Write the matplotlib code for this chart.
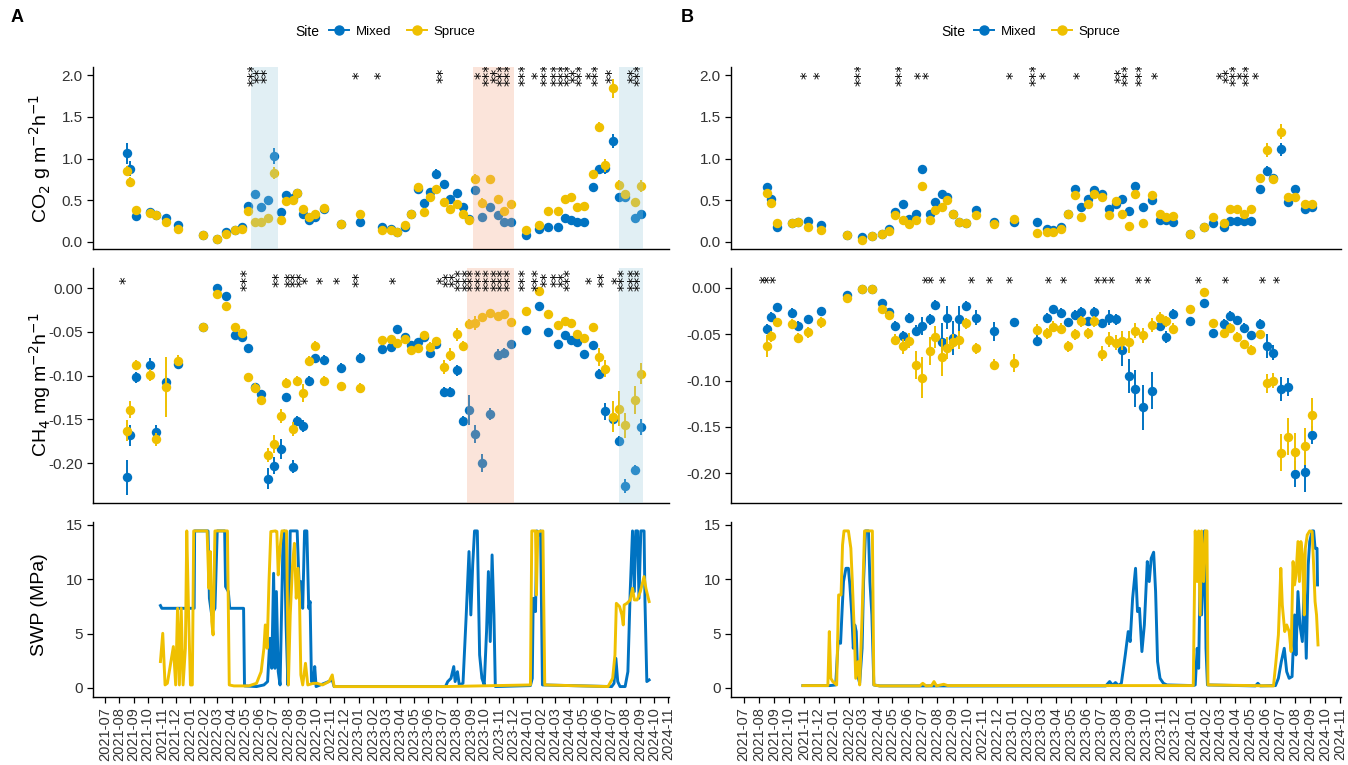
import numpy as np
import pandas as pd
import matplotlib
matplotlib.use("Agg")
import matplotlib.pyplot as plt
import matplotlib.dates as mdates
from matplotlib.lines import Line2D

plt.rcParams['font.family'] = ['Liberation Sans', 'DejaVu Sans']

# sampling campaigns (shared by both sites A and B)
dates = pd.to_datetime([
    "2021-08-18", "2021-08-25", "2021-09-07", "2021-10-07", "2021-10-20", "2021-11-10", "2021-12-07",
    "2022-01-29", "2022-02-28", "2022-03-21", "2022-04-09", "2022-04-23", "2022-05-07", "2022-05-22",
    "2022-06-03", "2022-06-19", "2022-07-01", "2022-07-16", "2022-07-27", "2022-08-11", "2022-08-21",
    "2022-09-02", "2022-09-15", "2022-09-28", "2022-10-19", "2022-11-24", "2023-01-04", "2023-02-20",
    "2023-03-13", "2023-03-25", "2023-04-11", "2023-04-25", "2023-05-10", "2023-05-22", "2023-06-04",
    "2023-06-17", "2023-07-04", "2023-07-17", "2023-08-01", "2023-08-14", "2023-08-28", "2023-09-09",
    "2023-09-25", "2023-10-13", "2023-10-29", "2023-11-11", "2023-11-26", "2023-12-30", "2024-01-27",
    "2024-02-16", "2024-03-08", "2024-03-22", "2024-04-04", "2024-04-18", "2024-05-02", "2024-05-22",
    "2024-06-05", "2024-06-17", "2024-07-04", "2024-07-17", "2024-07-31", "2024-08-21", "2024-09-04"])

# ---- panel A ----
co2_mixed_A = [1.06, 0.88, 0.31, 0.36, 0.32, 0.29, 0.20, 0.08, 0.03, 0.12, 0.14, 0.18, 0.43, 0.57, 0.42, 0.50,
               1.03, 0.36, 0.56, 0.53, 0.59, 0.34, 0.26, 0.30, 0.39, 0.22, 0.24, 0.18, 0.16, 0.12, 0.18, 0.34,
               0.63, 0.47, 0.60, 0.81, 0.69, 0.51, 0.59, 0.42, 0.28, 0.62, 0.30, 0.42, 0.32, 0.24, 0.24, 0.08,
               0.15, 0.18, 0.18, 0.29, 0.26, 0.24, 0.24, 0.66, 0.87, 0.89, 1.21, 0.54, 0.54, 0.29, 0.34]
co2_spruce_A = [0.85, 0.72, 0.38, 0.35, 0.32, 0.24, 0.16, 0.08, 0.03, 0.09, 0.14, 0.15, 0.37, 0.24, 0.24, 0.29,
                0.83, 0.26, 0.49, 0.50, 0.59, 0.40, 0.30, 0.34, 0.41, 0.22, 0.34, 0.14, 0.14, 0.12, 0.20, 0.34,
                0.66, 0.36, 0.54, 0.64, 0.48, 0.40, 0.46, 0.34, 0.26, 0.75, 0.47, 0.75, 0.51, 0.37, 0.45, 0.14,
                0.20, 0.37, 0.37, 0.51, 0.54, 0.42, 0.43, 0.82, 1.38, 0.92, 1.84, 0.68, 0.57, 0.48, 0.67]
co2_mixed_A_se = [0.12, 0.09, 0.02, 0.02, 0.02, 0.02, 0.02, 0.02, 0.02, 0.02, 0.02, 0.02, 0.03, 0.04, 0.03, 0.03,
                  0.10, 0.03, 0.03, 0.03, 0.03, 0.03, 0.03, 0.03, 0.03, 0.02, 0.02, 0.02, 0.02, 0.02, 0.02, 0.02,
                  0.03, 0.03, 0.04, 0.06, 0.04, 0.03, 0.03, 0.03, 0.02, 0.04, 0.03, 0.03, 0.03, 0.02, 0.02, 0.02,
                  0.02, 0.02, 0.02, 0.02, 0.02, 0.02, 0.02, 0.05, 0.05, 0.08, 0.08, 0.03, 0.03, 0.03, 0.03]
co2_spruce_A_se = [0.06, 0.06, 0.02, 0.02, 0.02, 0.02, 0.02, 0.02, 0.02, 0.02, 0.02, 0.02, 0.03, 0.02, 0.02, 0.02,
                   0.07, 0.02, 0.03, 0.03, 0.03, 0.03, 0.03, 0.03, 0.04, 0.02, 0.02, 0.02, 0.02, 0.02, 0.02, 0.02,
                   0.03, 0.03, 0.03, 0.03, 0.03, 0.03, 0.03, 0.03, 0.02, 0.06, 0.06, 0.03, 0.03, 0.03, 0.03, 0.02,
                   0.02, 0.02, 0.02, 0.02, 0.02, 0.02, 0.02, 0.03, 0.06, 0.08, 0.11, 0.06, 0.03, 0.03, 0.07]
ch4_mixed_A = [-0.216, -0.168, -0.102, -0.088, -0.165, -0.107, -0.087, -0.044, 0.000, -0.009, -0.054, -0.056,
               -0.069, -0.113, -0.121, -0.218, -0.203, -0.184, -0.125, -0.204, -0.152, -0.158, -0.106, -0.080,
               -0.082, -0.091, -0.080, -0.070, -0.067, -0.047, -0.056, -0.065, -0.062, -0.056, -0.074, -0.064,
               -0.119, -0.119, -0.094, -0.152, -0.139, -0.167, -0.200, -0.144, -0.076, -0.074, -0.064, -0.048,
               -0.021, -0.050, -0.064, -0.054, -0.059, -0.062, -0.075, -0.065, -0.098, -0.141, -0.150, -0.175,
               -0.226, -0.208, -0.159]
ch4_spruce_A = [-0.163, -0.139, -0.088, -0.099, -0.173, -0.113, -0.083, -0.044, -0.007, -0.021, -0.044, -0.051,
                -0.102, -0.114, -0.128, -0.191, -0.178, -0.146, -0.108, -0.161, -0.106, -0.120, -0.083, -0.066,
                -0.106, -0.112, -0.114, -0.059, -0.058, -0.063, -0.058, -0.071, -0.068, -0.054, -0.067, -0.061,
                -0.090, -0.076, -0.053, -0.066, -0.041, -0.040, -0.033, -0.028, -0.032, -0.030, -0.039, -0.026,
                -0.003, -0.030, -0.042, -0.038, -0.040, -0.052, -0.057, -0.044, -0.079, -0.092, -0.147, -0.138,
                -0.157, -0.128, -0.098]
ch4_mixed_A_se = [0.020, 0.012, 0.006, 0.008, 0.008, 0.006, 0.005, 0.004, 0.004, 0.004, 0.004, 0.004,
                  0.004, 0.005, 0.005, 0.012, 0.010, 0.011, 0.005, 0.007, 0.006, 0.007, 0.005, 0.005,
                  0.005, 0.005, 0.006, 0.004, 0.004, 0.004, 0.004, 0.004, 0.004, 0.004, 0.005, 0.004,
                  0.006, 0.006, 0.006, 0.006, 0.017, 0.010, 0.010, 0.007, 0.006, 0.005, 0.004, 0.004,
                  0.004, 0.004, 0.004, 0.004, 0.004, 0.004, 0.004, 0.004, 0.005, 0.010, 0.008, 0.006,
                  0.008, 0.006, 0.009]
ch4_spruce_A_se = [0.012, 0.010, 0.006, 0.007, 0.007, 0.034, 0.006, 0.004, 0.004, 0.004, 0.004, 0.004,
                   0.004, 0.005, 0.005, 0.008, 0.010, 0.008, 0.005, 0.008, 0.006, 0.010, 0.005, 0.005,
                   0.005, 0.005, 0.006, 0.004, 0.004, 0.004, 0.004, 0.004, 0.004, 0.004, 0.005, 0.004,
                   0.008, 0.007, 0.007, 0.005, 0.006, 0.008, 0.005, 0.004, 0.004, 0.004, 0.004, 0.004,
                   0.004, 0.004, 0.004, 0.004, 0.004, 0.004, 0.004, 0.004, 0.010, 0.010, 0.018, 0.020,
                   0.014, 0.016, 0.012]

# ---- panel B ----
co2_mixed_B = [0.66, 0.51, 0.18, 0.23, 0.24, 0.25, 0.20, 0.08, 0.06, 0.07, 0.10, 0.16, 0.36, 0.46, 0.27, 0.33,
               0.88, 0.34, 0.48, 0.57, 0.54, 0.34, 0.24, 0.23, 0.38, 0.24, 0.24, 0.24, 0.16, 0.14, 0.18, 0.34,
               0.64, 0.42, 0.51, 0.62, 0.58, 0.40, 0.46, 0.51, 0.37, 0.67, 0.42, 0.50, 0.26, 0.26, 0.24, 0.10,
               0.18, 0.23, 0.18, 0.25, 0.25, 0.25, 0.25, 0.63, 0.85, 0.77, 1.11, 0.48, 0.63, 0.39, 0.42]
co2_spruce_B = [0.59, 0.47, 0.23, 0.23, 0.24, 0.18, 0.14, 0.08, 0.02, 0.07, 0.10, 0.13, 0.32, 0.26, 0.22, 0.26,
                0.67, 0.26, 0.38, 0.42, 0.50, 0.34, 0.24, 0.23, 0.32, 0.22, 0.28, 0.11, 0.12, 0.12, 0.16, 0.34,
                0.56, 0.30, 0.46, 0.58, 0.54, 0.32, 0.49, 0.33, 0.19, 0.57, 0.23, 0.56, 0.33, 0.30, 0.31, 0.10,
                0.18, 0.30, 0.23, 0.40, 0.39, 0.34, 0.39, 0.77, 1.10, 0.76, 1.32, 0.54, 0.54, 0.46, 0.46]
co2_mixed_B_se = [0.03, 0.03, 0.02, 0.02, 0.02, 0.02, 0.02, 0.02, 0.02, 0.02, 0.02, 0.02, 0.02, 0.02, 0.02, 0.02,
                  0.04, 0.02, 0.02, 0.04, 0.03, 0.02, 0.02, 0.02, 0.02, 0.02, 0.02, 0.02, 0.02, 0.02, 0.02, 0.02,
                  0.02, 0.02, 0.02, 0.02, 0.02, 0.02, 0.02, 0.02, 0.02, 0.02, 0.02, 0.02, 0.02, 0.02, 0.02, 0.02,
                  0.02, 0.02, 0.02, 0.02, 0.02, 0.02, 0.02, 0.02, 0.06, 0.03, 0.08, 0.02, 0.05, 0.02, 0.02]
co2_spruce_B_se = [0.02, 0.02, 0.02, 0.02, 0.02, 0.02, 0.02, 0.02, 0.02, 0.02, 0.02, 0.02, 0.02, 0.02, 0.02, 0.02,
                   0.02, 0.02, 0.02, 0.02, 0.02, 0.02, 0.02, 0.02, 0.02, 0.02, 0.02, 0.02, 0.02, 0.02, 0.02, 0.02,
                   0.02, 0.02, 0.02, 0.02, 0.02, 0.02, 0.02, 0.02, 0.02, 0.02, 0.02, 0.02, 0.02, 0.02, 0.02, 0.02,
                   0.02, 0.02, 0.02, 0.02, 0.02, 0.02, 0.02, 0.02, 0.08, 0.03, 0.09, 0.02, 0.03, 0.02, 0.02]
ch4_mixed_B = [-0.044, -0.031, -0.021, -0.027, -0.041, -0.034, -0.025, -0.008, -0.001, -0.001, -0.016, -0.026,
               -0.041, -0.052, -0.032, -0.046, -0.041, -0.034, -0.018, -0.058, -0.032, -0.054, -0.034, -0.019,
               -0.032, -0.047, -0.037, -0.057, -0.032, -0.023, -0.027, -0.037, -0.029, -0.026, -0.036, -0.026,
               -0.038, -0.032, -0.034, -0.067, -0.095, -0.109, -0.129, -0.111, -0.041, -0.053, -0.028, -0.036,
               -0.016, -0.049, -0.039, -0.030, -0.035, -0.043, -0.051, -0.039, -0.063, -0.070, -0.109, -0.107,
               -0.201, -0.199, -0.159]
ch4_spruce_B = [-0.063, -0.052, -0.037, -0.039, -0.054, -0.048, -0.037, -0.011, -0.001, -0.001, -0.023, -0.029,
                -0.056, -0.063, -0.057, -0.083, -0.097, -0.068, -0.053, -0.075, -0.065, -0.058, -0.056, -0.038,
                -0.065, -0.083, -0.081, -0.045, -0.049, -0.042, -0.044, -0.063, -0.050, -0.036, -0.049, -0.036,
                -0.071, -0.056, -0.059, -0.057, -0.058, -0.046, -0.051, -0.040, -0.032, -0.036, -0.044, -0.023,
                -0.004, -0.038, -0.049, -0.043, -0.053, -0.061, -0.067, -0.050, -0.103, -0.100, -0.178, -0.161,
                -0.177, -0.171, -0.137]
ch4_mixed_B_se = [0.005, 0.005, 0.005, 0.005, 0.005, 0.005, 0.004, 0.004, 0.003, 0.003, 0.004, 0.004,
                  0.005, 0.005, 0.005, 0.006, 0.010, 0.006, 0.005, 0.020, 0.012, 0.018, 0.015, 0.005,
                  0.008, 0.010, 0.004, 0.006, 0.005, 0.005, 0.005, 0.005, 0.005, 0.005, 0.005, 0.005,
                  0.005, 0.008, 0.006, 0.017, 0.018, 0.020, 0.024, 0.020, 0.005, 0.006, 0.005, 0.004,
                  0.004, 0.004, 0.005, 0.005, 0.005, 0.005, 0.005, 0.005, 0.013, 0.008, 0.013, 0.010,
                  0.014, 0.022, 0.010]
ch4_spruce_B_se = [0.012, 0.006, 0.005, 0.005, 0.005, 0.006, 0.006, 0.004, 0.003, 0.003, 0.004, 0.004,
                   0.006, 0.008, 0.008, 0.015, 0.022, 0.015, 0.012, 0.020, 0.012, 0.008, 0.010, 0.006,
                   0.006, 0.006, 0.010, 0.006, 0.006, 0.006, 0.006, 0.006, 0.006, 0.006, 0.006, 0.006,
                   0.008, 0.008, 0.008, 0.010, 0.012, 0.008, 0.008, 0.008, 0.006, 0.006, 0.006, 0.004,
                   0.004, 0.004, 0.005, 0.005, 0.005, 0.005, 0.005, 0.005, 0.010, 0.008, 0.020, 0.020,
                   0.020, 0.020, 0.018]

# significance labels: (campaign number, label)
stars_co2_A = [(14, "***"), (15, "**"), (16, "**"), (27, "*"), (28, "*"), (37, "**"), (43, "*"), (44, "***"),
               (45, "**"), (46, "***"), (47, "***"), (48, "***"), (49, "*"), (50, "***"), (51, "***"),
               (52, "***"), (53, "***"), (54, "**"), (55, "***"), (56, "*"), (57, "***"), (59, "**"),
               (62, "**"), (63, "***")]
stars_ch4_A = [(1, "*"), (13, "***"), (18, "**"), (20, "**"), (21, "**"), (22, "**"), (23, "*"), (25, "*"),
               (26, "*"), (27, "**"), (30, "*"), (37, "*"), (38, "**"), (39, "**"), (40, "***"), (41, "***"),
               (42, "***"), (43, "***"), (44, "***"), (45, "***"), (46, "***"), (47, "***"), (48, "***"),
               (49, "***"), (50, "**"), (51, "**"), (52, "**"), (53, "***"), (56, "*"), (58, "**"),
               (60, "*"), (61, "***"), (62, "***"), (63, "***")]
stars_co2_B = [(6, "*"), (7, "*"), (9, "***"), (14, "***"), (17, "*"), (18, "*"), (27, "*"), (28, "***"),
               (29, "*"), (34, "*"), (40, "**"), (41, "***"), (43, "***"), (45, "*"), (51, "*"), (52, "**"),
               (53, "***"), (54, "*"), (55, "***"), (56, "*")]
stars_ch4_B = [(1, "*"), (2, "*"), (3, "*"), (18, "*"), (19, "*"), (21, "*"), (25, "*"), (26, "*"), (27, "*"),
               (30, "*"), (32, "*"), (37, "*"), (38, "*"), (39, "*"), (43, "*"), (44, "*"), (49, "*"),
               (52, "*"), (57, "*"), (59, "*")]

# soil water potential, days since swp_start
swp_start = pd.Timestamp("2021-07-01")
swp_mixed_A_day = [120, 123, 193, 194, 223, 226, 231, 238, 243, 259, 261, 267, 270, 300, 302, 328, 344, 352,
                   357, 361, 365, 368, 371, 375, 379, 385, 388, 392, 396, 401, 416, 420, 424, 428, 432, 437,
                   441, 444, 447, 451, 454, 457, 475, 492, 496, 737, 742, 749, 755, 758, 763, 767, 775, 782,
                   788, 792, 796, 800, 806, 811, 816, 821, 826, 830, 834, 838, 842, 845, 921, 925, 927, 932,
                   935, 939, 943, 947, 1097, 1102, 1106, 1110, 1115, 1126, 1132, 1137, 1142, 1146, 1149, 1153,
                   1156, 1160, 1167, 1169, 1173, 1178]
swp_mixed_A = [7.58, 7.33, 7.33, 14.45, 14.45, 8.25, 6.72, 7.33, 14.45, 14.45, 9.33, 8.87, 7.33, 7.33, 0.19,
               0.13, 0.28, 0.59, 4.57, 1.81, 10.55, 1.81, 8.87, 1.50, 0.28, 12.85, 14.45, 5.80, 0.28, 14.45,
               14.45, 9.79, 9.79, 7.33, 14.45, 14.45, 7.33, 7.95, 0.59, 0.43, 1.97, 0.13, 0.43, 0.74, 0.13,
               0.13, 0.59, 0.89, 1.97, 0.59, 1.50, 0.28, 0.43, 6.72, 12.55, 6.72, 11.32, 14.45, 14.45, 3.04,
               0.89, 0.28, 5.19, 10.71, 4.27, 12.24, 6.72, 0.13, 0.22, 0.89, 8.25, 7.03, 14.45, 14.08, 14.45,
               0.28, 0.13, 0.43, 2.73, 0.59, 0.13, 0.13, 1.50, 8.87, 14.45, 8.87, 14.45, 14.45, 8.25, 14.45,
               14.45, 7.95, 0.59, 0.74]
swp_spruce_A_day = [120, 125, 130, 135, 148, 153, 157, 161, 165, 169, 174, 177, 181, 185, 189, 192, 221, 225,
                    228, 231, 234, 238, 265, 269, 279, 311, 328, 338, 344, 347, 351, 355, 359, 369, 372, 375,
                    379, 383, 393, 397, 401, 406, 410, 414, 418, 421, 424, 428, 434, 439, 451, 459, 471, 485,
                    492, 496, 737, 921, 924, 932, 934, 937, 948, 952, 1089, 1099, 1104, 1107, 1114, 1119, 1122,
                    1124, 1130, 1137, 1142, 1146, 1152, 1159, 1167, 1171, 1178]
swp_spruce_A = [2.43, 5.03, 0.28, 0.43, 3.81, 0.28, 7.33, 0.28, 7.33, 0.28, 3.65, 14.45, 6.72, 0.28, 0.28,
                14.45, 14.45, 9.17, 12.55, 6.10, 4.88, 14.45, 14.45, 0.28, 0.19, 0.19, 0.43, 1.50, 3.65, 5.80,
                3.65, 9.79, 14.39, 14.45, 14.39, 10.40, 12.85, 14.45, 14.45, 0.28, 6.72, 11.32, 13.31, 8.25,
                11.01, 8.25, 1.20, 0.28, 2.27, 0.28, 0.43, 0.43, 0.28, 0.59, 1.20, 0.13, 0.13, 0.28, 14.45,
                14.45, 8.56, 14.39, 14.45, 0.28, 0.13, 0.89, 3.04, 7.79, 7.49, 6.72, 5.80, 7.64, 7.79, 8.10,
                9.17, 8.10, 8.10, 8.87, 10.25, 9.17, 7.95]
swp_mixed_B_day = [121, 176, 188, 193, 198, 201, 204, 209, 214, 217, 221, 224, 227, 230, 233, 237, 242, 245,
                   249, 255, 258, 262, 266, 278, 740, 748, 754, 760, 766, 772, 780, 786, 790, 795, 801, 805,
                   809, 814, 819, 825, 829, 833, 838, 842, 846, 851, 858, 865, 919, 923, 927, 930, 933, 936,
                   940, 942, 945, 948, 1046, 1051, 1056, 1087, 1093, 1099, 1105, 1110, 1115, 1121, 1126, 1129,
                   1133, 1137, 1142, 1146, 1150, 1154, 1157, 1162, 1165, 1168, 1172, 1173]
swp_mixed_B = [0.22, 0.22, 0.28, 4.27, 4.11, 7.03, 9.79, 11.01, 11.01, 9.48, 6.72, 3.65, 5.80, 5.19, 1.20,
               0.43, 3.65, 9.79, 14.45, 14.45, 9.79, 6.72, 0.28, 0.19, 0.19, 0.59, 0.25, 0.50, 0.22, 0.43,
               3.04, 5.19, 4.27, 8.25, 11.01, 7.03, 7.33, 3.35, 5.80, 11.63, 9.79, 11.93, 12.49, 8.87, 2.43,
               0.89, 0.43, 0.28, 0.22, 0.28, 3.65, 1.81, 10.40, 6.72, 11.01, 14.45, 3.65, 0.28, 0.19, 0.43,
               0.19, 0.22, 0.89, 2.43, 3.65, 1.50, 0.89, 1.05, 6.72, 3.04, 8.87, 5.80, 4.27, 9.79, 2.73,
               11.32, 13.47, 14.45, 14.45, 12.85, 12.85, 9.48]
swp_spruce_B_day = [121, 172, 175, 178, 182, 190, 194, 199, 202, 205, 214, 219, 222, 226, 229, 234, 237, 242,
                    247, 263, 266, 278, 360, 366, 373, 384, 389, 394, 409, 417, 919, 923, 927, 930, 933, 936,
                    940, 944, 947, 949, 1083, 1088, 1093, 1098, 1101, 1106, 1110, 1115, 1119, 1123, 1126,
                    1129, 1133, 1136, 1139, 1142, 1146, 1148, 1152, 1157, 1162, 1165, 1168, 1171, 1174]
swp_spruce_B = [0.22, 0.22, 5.19, 0.89, 0.59, 0.28, 8.56, 8.56, 13.16, 14.45, 14.45, 12.85, 9.79, 5.19, 0.89,
                2.43, 0.28, 6.72, 14.45, 14.45, 0.28, 0.19, 0.19, 0.43, 0.19, 0.22, 0.59, 0.19, 0.34, 0.22,
                0.22, 14.45, 9.79, 14.45, 6.72, 14.45, 9.79, 14.45, 14.45, 0.28, 0.19, 2.43, 4.88, 11.01, 7.64,
                5.19, 5.80, 5.19, 3.35, 11.63, 9.48, 10.40, 13.47, 9.79, 13.47, 12.24, 6.72, 12.85, 14.08,
                14.45, 14.39, 11.32, 7.95, 6.72, 3.96]

# shaded periods on panel A: (start, end, colour)
spans_co2_A = [("2022-05-12", "2022-07-11", "#9ccadb"), ("2023-09-06", "2023-12-03", "#f5a886"),
               ("2024-07-18", "2024-09-08", "#9ccadb")]
spans_ch4_A = [("2023-08-23", "2023-12-03", "#f5a886"), ("2024-07-18", "2024-09-08", "#9ccadb")]

C_MIX = "#0073C2"
C_SPR = "#EFC000"
XLIM = (pd.Timestamp("2021-06-05"), pd.Timestamp("2024-11-03"))

W, H = 1348, 765
fig = plt.figure(figsize=(W / 100, H / 100), dpi=100)


def box(x0, x1, y0, y1):
    return [x0 / W, 1 - y1 / H, (x1 - x0) / W, (y1 - y0) / H]


def style(ax, xlabels=False):
    for s in ["top", "right"]:
        ax.spines[s].set_visible(False)
    for s in ["left", "bottom"]:
        ax.spines[s].set_linewidth(1.0)
    ax.set_xlim(XLIM)
    ax.tick_params(axis="y", length=4, width=0.9, labelsize=11, labelcolor="#333333")
    if xlabels:
        ax.xaxis.set_major_locator(mdates.MonthLocator())
        ax.xaxis.set_major_formatter(mdates.DateFormatter("%Y-%m"))
        ax.tick_params(axis="x", length=4, width=0.9, labelsize=10.5, labelcolor="#333333", rotation=90)
    else:
        ax.tick_params(axis="x", bottom=False, labelbottom=False)


def flux(ax, ym, ys, em, es, stars, ystar, spans, ylim, ticks, fmt):
    ax.errorbar(dates, ym, yerr=em, fmt="o", color=C_MIX, ms=6.8, mew=0, elinewidth=1.4, capsize=0, zorder=2)
    ax.errorbar(dates, ys, yerr=es, fmt="o", color=C_SPR, ms=6.8, mew=0, elinewidth=1.4, capsize=0, zorder=3)
    for a, b, c in spans:
        ax.axvspan(pd.Timestamp(a), pd.Timestamp(b), color=c, alpha=0.3, lw=0, zorder=4)
    for n, lab in stars:
        ax.text(dates[n - 1], ystar, lab, rotation=90, ha="center", va="center", fontsize=11,
                family="DejaVu Sans", zorder=6, clip_on=True)
    ax.set_ylim(ylim)
    ax.set_yticks(ticks)
    ax.set_yticklabels([fmt % t for t in ticks])
    style(ax)


def swp(ax, dm, vm, ds, vs):
    ax.plot(swp_start + pd.to_timedelta(dm, unit="D"), vm, color=C_MIX, lw=2.1, solid_joinstyle="round")
    ax.plot(swp_start + pd.to_timedelta(ds, unit="D"), vs, color=C_SPR, lw=2.1, solid_joinstyle="round")
    ax.set_ylim(-0.83, 15.27)
    ax.set_yticks([0, 5, 10, 15])
    style(ax, xlabels=True)


co2_ticks = [0.0, 0.5, 1.0, 1.5, 2.0]
ch4_ticks = [-0.20, -0.15, -0.10, -0.05, 0.00]

ax = fig.add_axes(box(93, 669, 67, 249))
flux(ax, co2_mixed_A, co2_spruce_A, co2_mixed_A_se, co2_spruce_A_se, stars_co2_A, 2.0, spans_co2_A,
     (-0.084, 2.096), co2_ticks, "%.1f")
ax = fig.add_axes(box(93, 669, 268, 503))
flux(ax, ch4_mixed_A, ch4_spruce_A, ch4_mixed_A_se, ch4_spruce_A_se, stars_ch4_A, 0.0095, spans_ch4_A,
     (-0.2457, 0.0229), ch4_ticks, "%.2f")
ax = fig.add_axes(box(93, 669, 522, 697))
swp(ax, swp_mixed_A_day, swp_mixed_A, swp_spruce_A_day, swp_spruce_A)

ax = fig.add_axes(box(731, 1341, 67, 249))
flux(ax, co2_mixed_B, co2_spruce_B, co2_mixed_B_se, co2_spruce_B_se, stars_co2_B, 2.0, [],
     (-0.084, 2.096), co2_ticks, "%.1f")
ax = fig.add_axes(box(731, 1341, 268, 503))
flux(ax, ch4_mixed_B, ch4_spruce_B, ch4_mixed_B_se, ch4_spruce_B_se, stars_ch4_B, 0.009, [],
     (-0.2324, 0.0216), ch4_ticks, "%.2f")
ax = fig.add_axes(box(731, 1341, 522, 697))
swp(ax, swp_mixed_B_day, swp_mixed_B, swp_spruce_B_day, swp_spruce_B)

# y titles
fig.text(40 / W, 1 - 158 / H, r"CO$_2$ g m$^{-2}$h$^{-1}$", rotation=90, ha="center", va="center", fontsize=14)
fig.text(40 / W, 1 - 385 / H, r"CH$_4$ mg m$^{-2}$h$^{-1}$", rotation=90, ha="center", va="center", fontsize=14)
fig.text(40 / W, 1 - 605 / H, "SWP (MPa)", rotation=90, ha="center", va="center", fontsize=14)

# panel tags
fig.text(11 / W, 1 - 18 / H, "A", fontsize=13, fontweight="bold", ha="left", va="center")
fig.text(681 / W, 1 - 18 / H, "B", fontsize=13, fontweight="bold", ha="left", va="center")

# legends
handles = [Line2D([0], [0], color=C_MIX, marker="o", ms=6.5, lw=1.4),
           Line2D([0], [0], color=C_SPR, marker="o", ms=6.5, lw=1.4)]
for cx, sx in [(402, 307), (1047, 953)]:
    fig.text(sx / W, 1 - 32 / H, "Site", fontsize=10, ha="center", va="center")
    fig.legend(handles, ["Mixed", "Spruce"], loc="center", bbox_to_anchor=(cx / W, 1 - 32 / H), ncol=2,
               frameon=False, fontsize=9.5, handlelength=1.5, handletextpad=0.5, columnspacing=1.2)

fig.savefig("out.png", dpi=100)
